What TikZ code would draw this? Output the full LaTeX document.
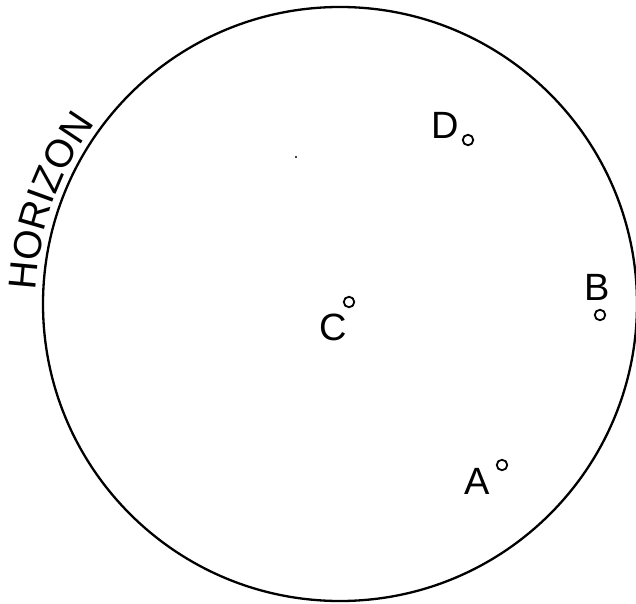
\documentclass[tikz,border=0pt]{standalone}
\usepackage{fontspec}
\setmainfont{Liberation Sans}
\usetikzlibrary{decorations.text}
\newfontfamily\lblfont{Liberation Sans}
\tikzset{
  horizon/.style={line width=2.3pt, draw=black},
  ptlabel/.style={inner sep=0pt, font=\lblfont\fontsize{38}{38}\selectfont},
  station/.style={circle, draw=black, line width=1.8pt, minimum size=10.5pt, inner sep=0pt},
}
\begin{document}
\begin{tikzpicture}[x=1pt,y=1pt]
\useasboundingbox (0,0) rectangle (636,603);
\coordinate (ctr) at (340,299);
\draw[horizon] (ctr) circle[radius=297];
% horizon label along the arc
\path[decorate, decoration={text along path, text align=center,
  text={|\lblfont\fontsize{39}{39}\selectfont|HORIZON}}]
  (ctr) ++(179:304.5) arc[start angle=179, end angle=142, radius=304.5];
% labels
\node[ptlabel] (lD) at (445,478) {D};
\node[ptlabel] (lB) at (597,315.5) {B};
\node[ptlabel] (lC) at (333.5,275.5) {C};
\node[ptlabel] (lA) at (477.5,121.5) {A};
% station circles
\node[station] (sD) at (468,463) {};
\node[station] (sB) at (600,288) {};
\node[station] (sC) at (349,301) {};
\node[station] (sA) at (502,138) {};
% small dot
\fill (296,446) circle[radius=1.2];
\end{tikzpicture}
\end{document}
